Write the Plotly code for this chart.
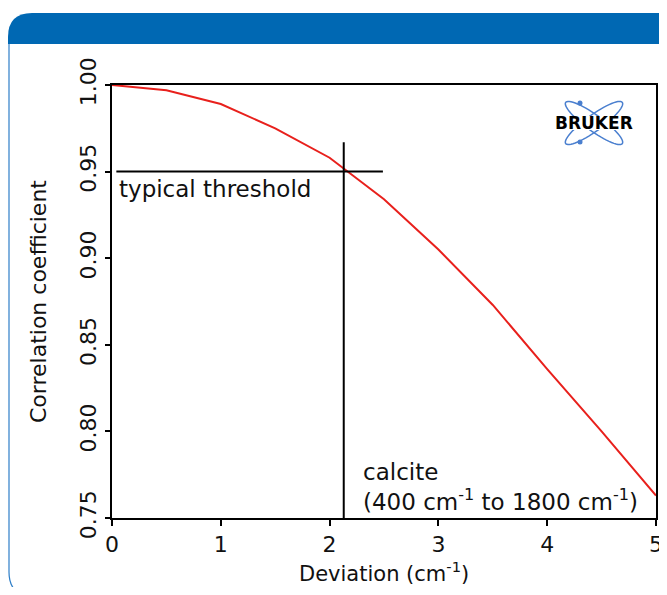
import numpy as np
import plotly.graph_objects as go

# ---- data ----
deviation = [0.0, 0.5, 1.0, 1.5, 2.0, 2.5, 3.0, 3.5, 4.0, 4.5, 5.0]
correlation = [1.000, 0.997, 0.989, 0.975, 0.958, 0.934, 0.905, 0.873, 0.836, 0.800, 0.763]
threshold = 0.95
threshold_x = [0.04, 2.49]
crossing_dev = 2.13
crossing_y = [0.75, 0.967]
x_ticks = [0, 1, 2, 3, 4, 5]
y_ticks = [0.75, 0.80, 0.85, 0.90, 0.95, 1.00]
y_ticklabels = ["0.75", "0.80", "0.85", "0.90", "0.95", "1.00"]

OFF = 8  # page body margin
W, H = 667 - 2 * OFF, 595 - 2 * OFF
ML, MT = 112 - OFF, 85 - OFF
PW, PH = 544, 433
MR, MB = W - ML - PW, H - MT - PH


def px(x):  # reference-pixel x -> paper
    return (x - OFF - ML) / PW


def py(y):  # reference-pixel y -> paper
    return (H - MB - (y - OFF)) / PH


FONT = "DejaVu Sans"
BLUE = "#0068b3"
FS = 22

fig = go.Figure()
fig.add_trace(go.Scatter(x=deviation, y=correlation, mode="lines",
                         line=dict(color="#e8201c", width=2), showlegend=False,
                         hoverinfo="skip"))
fig.add_trace(go.Scatter(x=threshold_x, y=[threshold, threshold], mode="lines",
                         line=dict(color="black", width=2), showlegend=False))
fig.add_trace(go.Scatter(x=[crossing_dev, crossing_dev], y=crossing_y, mode="lines",
                         line=dict(color="black", width=2), showlegend=False))

shapes = []
# header with rounded top-left corner
r = 24
x0, x1, yt, yb = 8, 700, 13, 44
hp = (f"M {px(x0)},{py(yb)} L {px(x0)},{py(yt + r)} "
      f"Q {px(x0)},{py(yt)} {px(x0 + r)},{py(yt)} L {px(x1)},{py(yt)} "
      f"L {px(x1)},{py(yb)} Z")
shapes.append(dict(type="path", path=hp, xref="paper", yref="paper",
                   fillcolor=BLUE, line=dict(width=0), layer="below"))
# body left border with rounded bottom-left
bp = (f"M {px(9)},{py(44)} L {px(9)},{py(572)} "
      f"Q {px(9)},{py(596)} {px(33)},{py(596)}")
shapes.append(dict(type="path", path=bp, xref="paper", yref="paper",
                   line=dict(color="#2f7fc8", width=1.2), layer="below"))

# logo orbits
cx, cy = 594, 123
a, b = 35, 8
t = np.linspace(0, 2 * np.pi, 60)
for ang in (np.deg2rad(36), np.deg2rad(-36)):
    ex = cx + a * np.cos(t) * np.cos(ang) - b * np.sin(t) * np.sin(ang)
    ey = cy + a * np.cos(t) * np.sin(ang) + b * np.sin(t) * np.cos(ang)
    p = "M " + " L ".join(f"{px(u):.5f},{py(v):.5f}" for u, v in zip(ex, ey)) + " Z"
    shapes.append(dict(type="path", path=p, xref="paper", yref="paper",
                       line=dict(color="#4a7fcf", width=1.5)))
for (dx, dy) in [(580, 103), (580, 142)]:
    shapes.append(dict(type="circle", xref="paper", yref="paper",
                       x0=px(dx - 2.5), x1=px(dx + 2.5), y0=py(dy + 2.5), y1=py(dy - 2.5),
                       fillcolor="#4a7fcf", line=dict(width=0)))
shapes.append(dict(type="rect", xref="paper", yref="paper",
                   x0=px(551), x1=px(638), y0=py(130), y1=py(116),
                   fillcolor="white", line=dict(width=0)))

annotations = [
    dict(text="typical threshold", x=px(117), y=py(189), xref="paper", yref="paper",
         xanchor="left", yanchor="middle", showarrow=False,
         font=dict(family=FONT, size=23, color="#111")),
    dict(text="calcite<br>(400 cm<sup>-1</sup> to 1800 cm<sup>-1</sup>)",
         x=px(361), y=py(487), xref="paper", yref="paper", align="left",
         xanchor="left", yanchor="middle", showarrow=False,
         font=dict(family=FONT, size=23, color="#111")),
    dict(text="<b>BRUKER</b>", x=px(594), y=py(123), xref="paper", yref="paper",
         xanchor="center", yanchor="middle", showarrow=False,
         font=dict(family="DejaVu Sans", size=17, color="black")),
    dict(text="Deviation (cm<sup>-1</sup>)", x=px(384), y=py(572), xref="paper",
         yref="paper", xanchor="center", yanchor="middle", showarrow=False,
         font=dict(family=FONT, size=21, color="#111")),
    dict(text="Correlation coefficient", x=px(38), y=py(302), xref="paper",
         yref="paper", xanchor="center", yanchor="middle", showarrow=False,
         textangle=-90, font=dict(family=FONT, size=FS, color="#111")),
]

fig.update_layout(
    width=W, height=H, margin=dict(l=ML, r=MR, t=MT, b=MB),
    paper_bgcolor="white", plot_bgcolor="rgba(0,0,0,0)",
    font=dict(family=FONT, size=FS, color="#111"),
    shapes=shapes, annotations=annotations,
    xaxis=dict(range=[0, 5], tickvals=x_ticks, ticks="outside", ticklen=6,
               tickwidth=2, tickcolor="black", showgrid=False, zeroline=False,
               showline=True, linecolor="black", linewidth=2, mirror=True,
               tickfont=dict(size=FS), automargin=False,
               ticklabeloverflow="allow"),
    yaxis=dict(range=[0.75, 1.0], tickvals=y_ticks, ticktext=y_ticklabels,
               tickangle=-90, ticks="outside", ticklen=5, tickwidth=2,
               tickcolor="black", showgrid=False, zeroline=False,
               showline=True, linecolor="black", linewidth=2, mirror=True,
               tickfont=dict(size=FS), automargin=False),
)

fig.write_html("out.html")
